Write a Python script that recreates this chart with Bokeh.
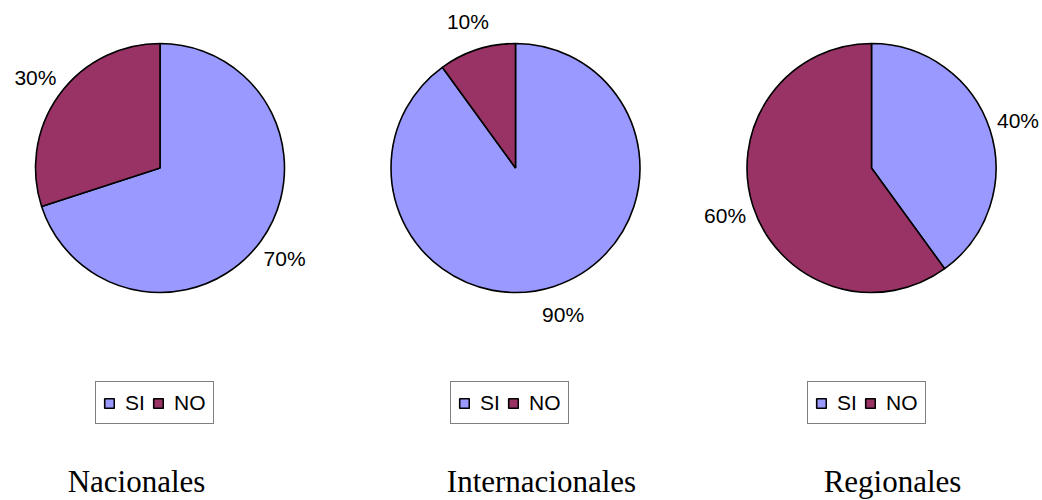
import math
from bokeh.plotting import figure
from bokeh.models import ColumnDataSource, Range1d, Legend, LegendItem
from bokeh.core.properties import value
from bokeh.embed import file_html
from bokeh.resources import INLINE

# ---- data ----
titles = ["Nacionales", "Internacionales", "Regionales"]
categories = ["SI", "NO"]
si_values = [70, 90, 40]
no_values = [30, 10, 60]
colors = ["#9999FF", "#993366"]

# ---- layout ----
W, H = 1042, 500
centers_x = [159.5, 515, 871]
center_y = H - 167.5
radius = 124.5
label_r = 154
title_x = [136, 541, 892]
title_y = H - 481
legend_x = [95, 450, 807]
legend_y = 76

p = figure(width=W, height=H, x_range=Range1d(0, W), y_range=Range1d(0, H),
           output_backend="svg", toolbar_location=None, min_border=0)
p.axis.visible = False
p.grid.visible = False
p.outline_line_color = None
p.background_fill_color = "white"
p.border_fill_color = "white"

for k, title in enumerate(titles):
    vals = [si_values[k], no_values[k]]
    total = sum(vals)
    cum = [0]
    for v in vals:
        cum.append(cum[-1] + v)
    start = [math.pi / 2 - 2 * math.pi * cum[i + 1] / total for i in range(len(vals))]
    end = [math.pi / 2 - 2 * math.pi * cum[i] / total for i in range(len(vals))]
    mid = [(s + e) / 2 for s, e in zip(start, end)]
    src = ColumnDataSource(dict(start=start, end=end, color=colors, cat=categories))
    r = p.wedge(x=centers_x[k], y=center_y, radius=radius,
                start_angle="start", end_angle="end", direction="anticlock",
                fill_color="color", line_color="black", line_width=1.6, source=src)

    lab_src = ColumnDataSource(dict(
        x=[centers_x[k] + label_r * math.cos(m) for m in mid],
        y=[center_y + label_r * math.sin(m) for m in mid],
        t=[f"{v}%" for v in vals]))
    p.text(x="x", y="y", text="t", source=lab_src, text_align="center",
           text_baseline="middle", text_font=value("Liberation Sans"),
           text_font_size="21px", text_color="black")

    p.text(x=[title_x[k]], y=[title_y], text=[title], text_align="center",
           text_baseline="middle", text_font=value("Liberation Serif"),
           text_font_size="31px", text_color="black")

    legend = Legend(
        items=[LegendItem(label=categories[i], renderers=[r], index=i) for i in range(len(vals))],
        location=(legend_x[k], legend_y), orientation="horizontal",
        glyph_width=12, glyph_height=12, label_standoff=10, spacing=7,
        padding=7, margin=0, label_height=27,
        label_text_font="Liberation Sans", label_text_font_size="21px",
        label_text_color="black",
        border_line_color="black", border_line_width=1,
        background_fill_color="white", background_fill_alpha=1.0)
    p.add_layout(legend)

open("out.html", "w").write(file_html(p, INLINE))
